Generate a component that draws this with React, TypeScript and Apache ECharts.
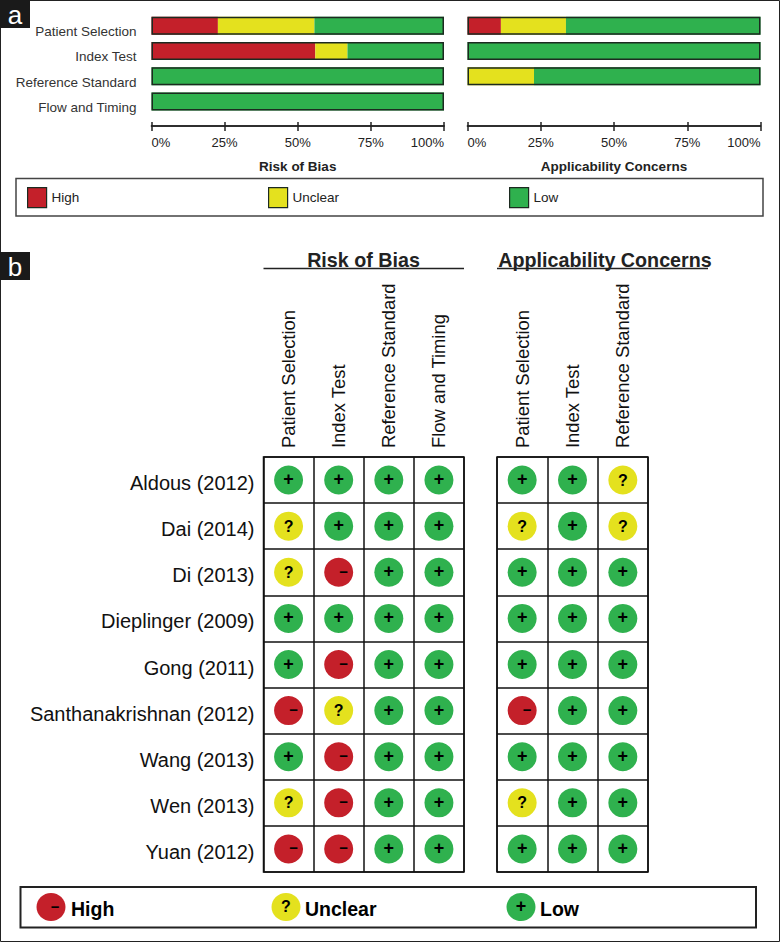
import React, { useEffect, useRef } from "react";
import * as echarts from "echarts";

const FONT = "Liberation Sans";
const RED = "#c4202a";
const YELLOW = "#e4e11e";
const GREEN = "#2fb14e";

const domainsBias = ["Patient Selection", "Index Test", "Reference Standard", "Flow and Timing"];
const domainsConcern = ["Patient Selection", "Index Test", "Reference Standard"];
const studies = ["Aldous (2012)", "Dai (2014)", "Di (2013)", "Dieplinger (2009)", "Gong (2011)", "Santhanakrishnan (2012)", "Wang (2013)", "Wen (2013)", "Yuan (2012)"];
const percentTicks = ["0%", "25%", "50%", "75%", "100%"];

const biasHigh = [22.7, 56, 0, 0];
const biasUnclear = [33, 11, 0, 0];
const biasLow = [44.3, 33, 100, 100];
const biasOutline = [100, 100, 100, 100];
const concernHigh = [11.4, 0, 0, null];
const concernUnclear = [22.2, 0, 22.7, null];
const concernLow = [66.4, 100, 77.3, null];
const concernOutline = [100, 100, 100, null];

const patientBias = ["L", "U", "U", "L", "L", "H", "L", "U", "H"];
const indexBias = ["L", "L", "H", "L", "H", "U", "H", "H", "H"];
const referenceBias = ["L", "L", "L", "L", "L", "L", "L", "L", "L"];
const flowBias = ["L", "L", "L", "L", "L", "L", "L", "L", "L"];
const patientConcern = ["L", "U", "L", "L", "L", "H", "L", "U", "L"];
const indexConcern = ["L", "L", "L", "L", "L", "L", "L", "L", "L"];
const referenceConcern = ["U", "U", "L", "L", "L", "L", "L", "L", "L"];

const biasColumns = [patientBias, indexBias, referenceBias, flowBias];
const concernColumns = [patientConcern, indexConcern, referenceConcern];

const ratingStyle: any = {
  H: { name: "High", color: RED, glyph: "\u2212", size: 15, offset: [5, -1] },
  U: { name: "Unclear", color: YELLOW, glyph: "?", size: 16, offset: [0, 0] },
  L: { name: "Low", color: GREEN, glyph: "+", size: 18, offset: [0, -1] },
};

function pointsFor(columns: string[][], domains: string[], code: string) {
  const out: any[] = [];
  columns.forEach((col, c) =>
    col.forEach((r, s) => {
      if (r === code) out.push([domains[c], studies[s]]);
    })
  );
  return out;
}

function lightSeries(columns: string[][], domains: string[], axisIndex: number) {
  return ["H", "U", "L"].map((code) => {
    const st = ratingStyle[code];
    return {
      type: "scatter",
      name: st.name,
      xAxisIndex: axisIndex,
      yAxisIndex: axisIndex,
      symbol: "circle",
      symbolSize: 29,
      itemStyle: { color: st.color, opacity: 1 },
      label: {
        show: true,
        position: "inside",
        formatter: st.glyph,
        color: "#000",
        fontFamily: FONT,
        fontWeight: "bold",
        fontSize: st.size,
        offset: st.offset,
      },
      data: pointsFor(columns, domains, code),
    };
  });
}

function barSeries(name: string, color: string, data: any[], axisIndex: number) {
  return {
    type: "bar",
    name,
    stack: "s" + axisIndex,
    xAxisIndex: axisIndex,
    yAxisIndex: axisIndex === 0 ? 0 : 1,
    barWidth: 18,
    barGap: "-100%",
    itemStyle: { color },
    data,
  };
}

function outlineSeries(data: any[], axisIndex: number) {
  return {
    type: "bar",
    name: "outline" + axisIndex,
    xAxisIndex: axisIndex,
    yAxisIndex: axisIndex === 0 ? 0 : 1,
    barWidth: 18,
    barGap: "-100%",
    z: 5,
    itemStyle: { color: "transparent", borderColor: "#1c2a20", borderWidth: 1.5 },
    data,
  };
}

function percentAxes(gridIndex: number, title: string) {
  const line = { show: true, onZero: false, lineStyle: { color: "#222", width: 1.5 } };
  const label = (v: number) => percentTicks[v / 25];
  return [
    {
      type: "value", gridIndex, min: 0, max: 100, interval: 25, position: "bottom", offset: 12,
      axisLine: line,
      axisTick: { show: true, length: 5, lineStyle: { color: "#222", width: 1.5 } },
      splitLine: { show: false },
      axisLabel: { formatter: label, color: "#222", fontFamily: FONT, fontSize: 13, margin: 10, alignMinLabel: "left", alignMaxLabel: "right", showMinLabel: true, showMaxLabel: true },
      name: title, nameLocation: "middle", nameGap: 33,
      nameTextStyle: { color: "#222", fontFamily: FONT, fontWeight: "bold", fontSize: 13.5 },
    },
    {
      type: "value", gridIndex, min: 0, max: 100, interval: 25, position: "bottom", offset: 12,
      axisLine: line,
      axisTick: { show: true, inside: true, length: 4, lineStyle: { color: "#222", width: 1.5 } },
      splitLine: { show: false },
      axisLabel: { show: false },
    },
  ];
}

function lightX(gridIndex: number, domains: string[]) {
  return {
    type: "category", gridIndex, data: domains, position: "top",
    axisLine: { show: false }, axisTick: { show: false },
    splitLine: { show: true, interval: 0, lineStyle: { color: "#111", width: 1.5 } },
    axisLabel: { interval: 0, rotate: -90, color: "#111", fontFamily: FONT, fontSize: 18.4, margin: 9 },
  };
}

function lightY(gridIndex: number, showLabels: boolean) {
  return {
    type: "category", gridIndex, data: studies, inverse: true,
    axisLine: { show: false }, axisTick: { show: false },
    splitLine: { show: true, interval: 0, lineStyle: { color: "#111", width: 1.5 } },
    axisLabel: { show: showLabels, interval: 0, color: "#111", fontFamily: FONT, fontSize: 20, margin: 9, verticalAlign: "top", lineHeight: 6 },
  };
}

function legendA(name: string, left: number) {
  return {
    left, top: 187, padding: 0, itemWidth: 19, itemHeight: 20, itemGap: 4, icon: "rect", selectedMode: false,
    data: [name],
    itemStyle: { borderColor: "#1c2a20", borderWidth: 1.2 },
    textStyle: { color: "#222", fontFamily: FONT, fontSize: 13.5 },
  };
}

function panelTag(text: string, y: number) {
  return [
    { type: "rect", shape: { x: 0, y, width: 30, height: 28 }, style: { fill: "#1a1a1a" } },
    { type: "text", x: 15, y: y + 15, style: { text, fill: "#fff", font: `26px "${FONT}"`, textAlign: "center", textVerticalAlign: "middle" } },
  ];
}

function headerB(text: string, cx: number, x1: number, x2: number) {
  return [
    { type: "text", x: cx, y: 260, style: { text, fill: "#222", font: `bold 19.7px "${FONT}"`, textAlign: "center", textVerticalAlign: "middle" } },
    { type: "line", shape: { x1, y1: 268.5, x2, y2: 268.5 }, style: { stroke: "#222", lineWidth: 1.5 } },
  ];
}

function legendB(code: string, cx: number, textX: number) {
  const st = ratingStyle[code];
  return [
    { type: "ellipse", shape: { cx, cy: 907, rx: 14.5, ry: 14 }, style: { fill: st.color } },
    { type: "text", x: cx + st.offset[0] * 0.8, y: 906, style: { text: st.glyph, fill: "#000", font: `bold ${st.size}px "${FONT}"`, textAlign: "center", textVerticalAlign: "middle" } },
    { type: "text", x: textX, y: 909, style: { text: st.name, fill: "#000", font: `bold 19.5px "${FONT}"`, textAlign: "left", textVerticalAlign: "middle" } },
  ];
}

export default function App() {
  const ref = useRef<HTMLDivElement>(null);
  useEffect(() => {
    document.body.style.margin = "0";
    const chart = echarts.init(ref.current!, undefined, { renderer: "svg" });
    chart.setOption({
      animation: false,
      backgroundColor: "#fff",
      textStyle: { fontFamily: FONT },
      grid: [
        { left: 151.5, top: 13, width: 292.5, height: 101 },
        { left: 467.5, top: 13, width: 293, height: 101 },
        { left: 263.5, top: 457, width: 200.5, height: 415, show: true, borderColor: "#111", borderWidth: 1.5, backgroundColor: "transparent" },
        { left: 497, top: 457, width: 151, height: 415, show: true, borderColor: "#111", borderWidth: 1.5, backgroundColor: "transparent" },
      ],
      xAxis: [
        ...percentAxes(0, "Risk of Bias"),
        ...percentAxes(1, "Applicability Concerns"),
        lightX(2, domainsBias),
        lightX(3, domainsConcern),
      ],
      yAxis: [
        {
          type: "category", gridIndex: 0, data: domainsBias, inverse: true,
          axisLine: { show: false }, axisTick: { show: false },
          axisLabel: { interval: 0, color: "#333", fontFamily: FONT, fontSize: 13.5, margin: 15, verticalAlign: "top", lineHeight: 12 },
        },
        {
          type: "category", gridIndex: 1, data: domainsBias, inverse: true,
          axisLine: { show: false }, axisTick: { show: false }, axisLabel: { show: false },
        },
        lightY(2, true),
        lightY(3, false),
      ],
      legend: [legendA("High", 27), legendA("Unclear", 268), legendA("Low", 509)],
      series: [
        barSeries("High", RED, biasHigh, 0),
        barSeries("Unclear", YELLOW, biasUnclear, 0),
        barSeries("Low", GREEN, biasLow, 0),
        outlineSeries(biasOutline, 0),
        barSeries("High", RED, concernHigh, 2),
        barSeries("Unclear", YELLOW, concernUnclear, 2),
        barSeries("Low", GREEN, concernLow, 2),
        outlineSeries(concernOutline, 2),
        ...lightSeries(biasColumns, domainsBias, 4).map((s) => ({ ...s, yAxisIndex: 2 })),
        ...lightSeries(concernColumns, domainsConcern, 5).map((s) => ({ ...s, yAxisIndex: 3 })),
      ],
      graphic: [
        { type: "rect", shape: { x: 0.5, y: 0.5, width: 779, height: 941 }, style: { fill: "transparent", stroke: "#222", lineWidth: 1 } },
        { type: "rect", shape: { x: 16, y: 178.5, width: 747, height: 37.5 }, style: { fill: "transparent", stroke: "#444", lineWidth: 1.5 } },
        { type: "rect", shape: { x: 20.5, y: 887, width: 735.5, height: 40.5 }, style: { fill: "transparent", stroke: "#222", lineWidth: 2 } },
        ...panelTag("a", 0),
        ...panelTag("b", 252),
        ...headerB("Risk of Bias", 363.5, 263.5, 464),
        ...headerB("Applicability Concerns", 605, 497, 708),
        ...legendB("H", 51, 71),
        ...legendB("U", 286, 305),
        ...legendB("L", 521, 540),
      ],
    });
    return () => chart.dispose();
  }, []);
  return <div ref={ref} style={{ width: 780, height: 943 }} />;
}
